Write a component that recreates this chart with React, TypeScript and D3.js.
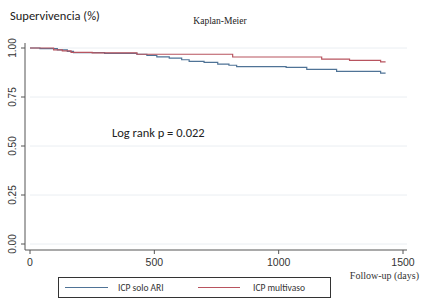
import React from "react";
import * as d3 from "d3";

const seriesNames = ["ICP solo ARI", "ICP multivaso"];
const seriesColors = ["#4f7396", "#b8545f"];

const blueDays = [0, 40, 110, 150, 175, 300, 430, 470, 510, 560, 610, 640, 700, 755, 800, 831, 1030, 1113, 1233, 1410, 1430];
const blueSurv = [1.0, 0.997, 0.99, 0.983, 0.976, 0.973, 0.968, 0.962, 0.955, 0.948, 0.94, 0.932, 0.927, 0.918, 0.912, 0.905, 0.901, 0.891, 0.881, 0.872, 0.872];

const redDays = [0, 95, 130, 165, 250, 430, 815, 1173, 1285, 1410, 1430];
const redSurv = [1.0, 0.99, 0.985, 0.978, 0.975, 0.968, 0.954, 0.943, 0.937, 0.929, 0.929];

const xTicks = [0, 500, 1000, 1500];
const yTicks = [0, 0.25, 0.5, 0.75, 1.0];

export default function App() {
  const W = 423, H = 304;
  const x = d3.scaleLinear().domain([0, 1500]).range([30, 403]);
  const y = d3.scaleLinear().domain([0, 1]).range([244, 48]);
  const line = d3.line<[number, number]>().x(d => x(d[0])).y(d => y(d[1])).curve(d3.curveStepAfter);
  const blue: [number, number][] = blueDays.map((d, i) => [d, blueSurv[i]]);
  const red: [number, number][] = redDays.map((d, i) => [d, redSurv[i]]);
  const sans = "Carlito, Calibri, 'Open Sans', sans-serif";
  const arial = "'Liberation Sans', Arial, sans-serif";
  const serif = "'Liberation Serif', 'DejaVu Serif', 'Times New Roman', serif";
  return (
    <svg width={W} height={H} style={{ position: "absolute", left: 0, top: 0, background: "#fff" }}>
      <rect width={W} height={H} fill="#fff" />
      <text x={10} y={20} fontFamily={sans} fontSize={12.5} fill="#222">Supervivencia (%)</text>
      <text x={220} y={24} fontFamily={serif} fontSize={9.5} fill="#222" textAnchor="middle">Kaplan-Meier</text>
      {yTicks.map(t => (
        <g key={t}>
          <line x1={30} x2={407} y1={y(t)} y2={y(t)} stroke="#eaeef2" strokeWidth={1} />
          <line x1={21} x2={25} y1={y(t)} y2={y(t)} stroke="#555" strokeWidth={1} />
          <text transform={`translate(16,${y(t)}) rotate(-90)`} textAnchor="middle" fontFamily={arial} fontSize={10} fill="#333">{t.toFixed(2)}</text>
        </g>
      ))}
      <line x1={25} x2={25} y1={43} y2={250} stroke="#555" strokeWidth={1} />
      <line x1={25} x2={407} y1={250} y2={250} stroke="#555" strokeWidth={1} />
      {xTicks.map(t => (
        <g key={t}>
          <line x1={x(t)} x2={x(t)} y1={250} y2={254} stroke="#555" strokeWidth={1} />
          <text x={x(t)} y={266} textAnchor="middle" fontFamily={arial} fontSize={10.5} fill="#333">{t}</text>
        </g>
      ))}
      <text x={419} y={279} textAnchor="end" fontFamily={serif} fontSize={10} fill="#333">Follow-up (days)</text>
      <path d={line(blue) || ""} fill="none" stroke={seriesColors[0]} strokeWidth={1.2} />
      <path d={line(red) || ""} fill="none" stroke={seriesColors[1]} strokeWidth={1.2} />
      <text x={112} y={137} fontFamily={sans} fontSize={12.5} fill="#222">Log rank p = 0.022</text>
      <rect x={58.5} y={277.5} width={272} height={20} fill="#fff" stroke="#333" strokeWidth={1} />
      <line x1={65} x2={108} y1={287.5} y2={287.5} stroke={seriesColors[0]} strokeWidth={1.2} />
      <text x={118} y={291} fontFamily={sans} fontSize={9.5} fill="#333">{seriesNames[0]}</text>
      <line x1={198} x2={240} y1={287.5} y2={287.5} stroke={seriesColors[1]} strokeWidth={1.2} />
      <text x={253} y={291} fontFamily={sans} fontSize={9.5} fill="#333">{seriesNames[1]}</text>
    </svg>
  );
}
